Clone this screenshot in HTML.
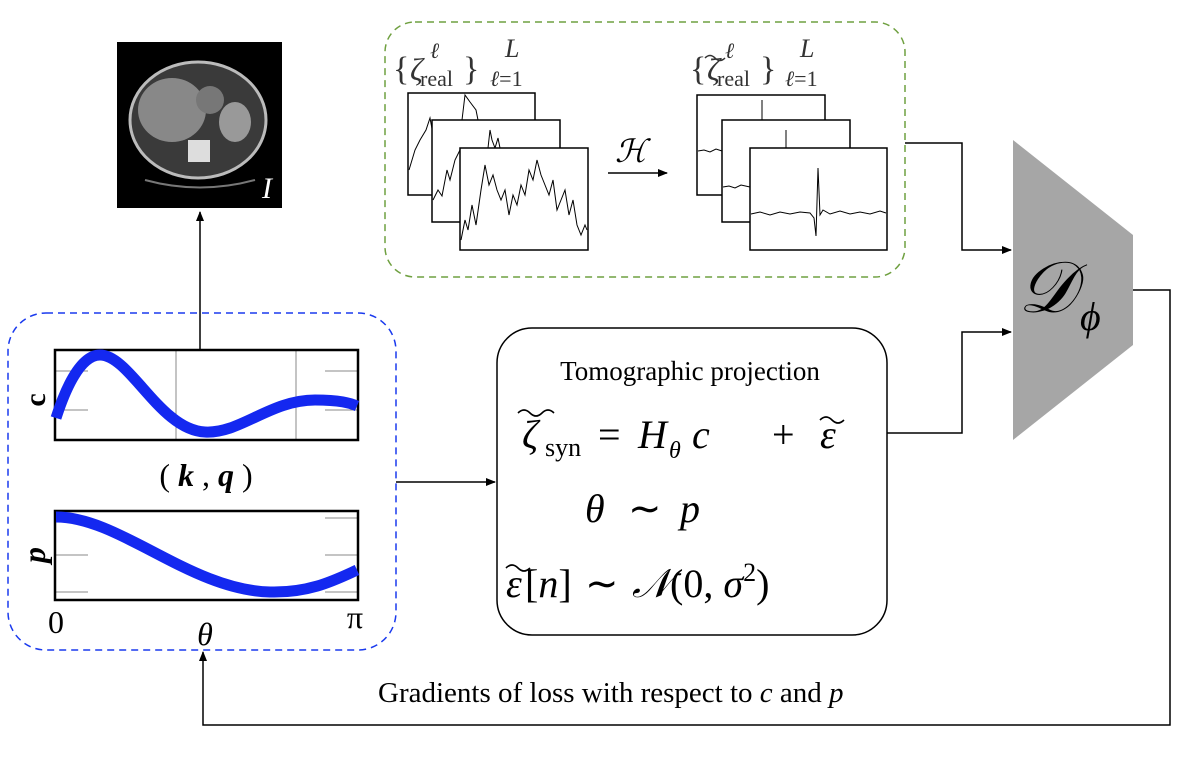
<!DOCTYPE html>
<html><head><style>
body{margin:0;background:#fff}
svg{display:block}
text{font-family:"Liberation Serif",serif}
</style></head><body>
<svg width="1179" height="758" viewBox="0 0 1179 758" xmlns="http://www.w3.org/2000/svg">
<defs>
<marker id="ah" markerWidth="10" markerHeight="8" refX="9" refY="4" orient="auto" markerUnits="userSpaceOnUse">
<path d="M0,0 L10,4 L0,8 z" fill="#000"/></marker>
</defs>
<rect x="117" y="42" width="165" height="166" fill="#000"/>
<ellipse cx="198" cy="120" rx="68" ry="58" fill="#3a3a3a" stroke="#bbb" stroke-width="3"/>
<ellipse cx="172" cy="110" rx="34" ry="32" fill="#888"/>
<ellipse cx="235" cy="122" rx="16" ry="20" fill="#999"/>
<ellipse cx="210" cy="100" rx="14" ry="14" fill="#777"/>
<rect x="188" y="140" width="22" height="22" fill="#ddd"/>
<path d="M145 180 Q200 195 255 180" stroke="#777" stroke-width="2" fill="none"/>
<text x="262" y="198" font-size="30" font-style="italic" fill="#fff">I</text>
<line x1="200" y1="350" x2="200" y2="212" stroke="#000" stroke-width="1.5" marker-end="url(#ah)"/>

<rect x="385" y="22" width="520" height="255" rx="30" fill="none" stroke="#6fa040" stroke-width="1.5" stroke-dasharray="7,5"/>
<g fill="#333">
<text x="393" y="80" font-size="34">{</text>
<text x="410" y="80" font-size="32" font-style="italic">ζ</text>
<text x="430" y="58" font-size="22" font-style="italic">ℓ</text>
<text x="420" y="86" font-size="22">real</text>
<text x="463" y="80" font-size="34">}</text>
<text x="505" y="57" font-size="26" font-style="italic">L</text>
<text x="490" y="86" font-size="22"><tspan font-style="italic">ℓ</tspan>=1</text>

<text x="690" y="80" font-size="34">{</text>
<text x="707" y="80" font-size="32" font-style="italic">ζ</text>
<path d="M705,58 q5,-5 10,0 t10,0" stroke="#333" stroke-width="1.5" fill="none"/>
<text x="725" y="58" font-size="22" font-style="italic">ℓ</text>
<text x="717" y="86" font-size="22">real</text>
<text x="760" y="80" font-size="34">}</text>
<text x="800" y="57" font-size="26" font-style="italic">L</text>
<text x="785" y="86" font-size="22"><tspan font-style="italic">ℓ</tspan>=1</text>
</g>
<g fill="#fff" stroke="#000" stroke-width="1.5">
<rect x="408" y="93" width="127" height="102"/>
<polyline fill="none" stroke-width="1" points="409,170 415,150 420,140 426,130 430,118 436,150 440,130 446,120"/>
<polyline fill="none" stroke-width="1" points="462,120 465,95 470,102 476,110 478,120"/>
<rect x="432" y="120" width="128" height="102"/>
<polyline fill="none" stroke-width="1" points="433,200 438,190 442,196 447,170 450,180 455,160 460,150"/>
<polyline fill="none" stroke-width="1" points="488,148 490,130 492,140 495,148 498,138 500,148"/>
<rect x="460" y="148" width="128" height="102"/>
<polyline fill="none" stroke-width="1" points="461,240 465,220 468,230 472,205 476,225 481,190 485,165 489,185 493,175 497,190 501,200 505,190 509,215 513,195 517,205 521,185 525,195 529,170 533,180 537,160 541,175 545,185 549,195 553,180 557,210 561,200 565,190 569,215 573,200 577,225 581,235 585,225 587,230"/>
<rect x="697" y="95" width="128" height="100"/>
<polyline fill="none" stroke-width="1" points="698,151 704,150 710,152 716,149 722,151"/>
<line x1="762" y1="100" x2="762" y2="120" stroke-width="1"/>
<rect x="722" y="120" width="128" height="102"/>
<polyline fill="none" stroke-width="1" points="723,187 729,186 735,188 741,185 750,187"/>
<line x1="786" y1="130" x2="786" y2="148" stroke-width="1"/>
<rect x="750" y="148" width="137" height="102"/>
<polyline fill="none" stroke-width="1" points="751,214 760,212 770,215 780,212 790,214 800,212 810,213 814,218 816,236 818,168 820,215 823,210 830,214 840,211 850,214 860,212 870,214 880,211 886,213"/>
</g>
<text x="615" y="162" font-size="32" font-style="italic">ℋ</text>
<line x1="608" y1="173" x2="667" y2="173" stroke="#000" stroke-width="1.5" marker-end="url(#ah)"/>

<polyline points="905,143 962,143 962,250 1011,250" fill="none" stroke="#000" stroke-width="1.5" marker-end="url(#ah)"/>
<polyline points="887,433 962,433 962,332 1011,332" fill="none" stroke="#000" stroke-width="1.5" marker-end="url(#ah)"/>
<polygon points="1013,140 1133,235 1133,345 1013,440" fill="#a6a6a6"/>
<text x="1018" y="312" font-size="72" font-style="italic">𝒟</text>
<text x="1080" y="330" font-size="40" font-style="italic">ϕ</text>
<polyline points="1133,290 1170,290 1170,725 203,725 203,652" fill="none" stroke="#000" stroke-width="1.5" marker-end="url(#ah)"/>
<text x="378" y="702" font-size="29">Gradients of loss with respect to <tspan font-style="italic">c</tspan> and <tspan font-style="italic">p</tspan></text>

<rect x="8" y="313" width="388" height="337" rx="38" fill="none" stroke="#1a3aee" stroke-width="1.5" stroke-dasharray="7,5"/>
<line x1="396" y1="482" x2="495" y2="482" stroke="#000" stroke-width="1.5" marker-end="url(#ah)"/>
<g stroke="#888" stroke-width="1">
<line x1="176" y1="351" x2="176" y2="439"/><line x1="296" y1="351" x2="296" y2="439"/>
<line x1="56" y1="371" x2="88" y2="371"/><line x1="56" y1="410" x2="88" y2="410"/>
<line x1="325" y1="371" x2="357" y2="371"/><line x1="325" y1="410" x2="357" y2="410"/>
<line x1="56" y1="555" x2="88" y2="555"/><line x1="56" y1="592" x2="88" y2="592"/>
<line x1="325" y1="518" x2="357" y2="518"/><line x1="325" y1="555" x2="357" y2="555"/><line x1="325" y1="592" x2="357" y2="592"/>
</g>
<rect x="55" y="350" width="303" height="90" fill="none" stroke="#000" stroke-width="2.5"/>
<rect x="55" y="511" width="303" height="89" fill="none" stroke="#000" stroke-width="2.5"/>
<path d="M56,418 C65,390 80,355 100,355 C130,355 160,430 205,432 C240,434 270,400 315,400 C340,400 350,403 357,406" fill="none" stroke="#1428f0" stroke-width="11"/>
<path d="M56,517 C120,517 190,590 270,592 C310,593 335,580 357,570" fill="none" stroke="#1428f0" stroke-width="11"/>
<text x="45" y="400" font-size="30" font-weight="bold" transform="rotate(-90 45 400)" text-anchor="middle">c</text>
<text x="45" y="555" font-size="32" font-style="italic" font-weight="bold" transform="rotate(-90 45 555)" text-anchor="middle">p</text>
<text x="206" y="486" font-size="32" text-anchor="middle">( <tspan font-style="italic" font-weight="bold">k</tspan> , <tspan font-style="italic" font-weight="bold">q</tspan> )</text>
<text x="56" y="633" font-size="32" text-anchor="middle">0</text>
<text x="355" y="628" font-size="32" text-anchor="middle">π</text>
<text x="205" y="645" font-size="32" font-style="italic" text-anchor="middle">θ</text>

<rect x="497" y="328" width="390" height="307" rx="35" fill="#fff" stroke="#000" stroke-width="1.5"/>
<text x="690" y="380" font-size="27" text-anchor="middle">Tomographic projection</text>
<g font-size="40">
<text x="522" y="448" font-style="italic">ζ</text>
<path d="M518,413 q6,-6 12,0 t12,0 t12,0" stroke="#000" stroke-width="1.6" fill="none"/>
<text x="545" y="456" font-size="26">syn</text>
<text x="598" y="448">=</text>
<text x="638" y="448" font-style="italic">H</text>
<text x="669" y="458" font-size="24" font-style="italic">θ</text>
<text x="692" y="448" font-style="italic">c</text>
<text x="772" y="448">+</text>
<text x="820" y="448" font-style="italic">ε</text>
<path d="M820,420 q6,-6 12,0 t12,0" stroke="#000" stroke-width="1.6" fill="none"/>

<text x="585" y="522" font-style="italic">θ</text>
<text x="628" y="522">∼</text>
<text x="680" y="522" font-style="italic">p</text>

<text x="506" y="597" font-style="italic">ε</text>
<path d="M506,568 q6,-6 12,0 t12,0" stroke="#000" stroke-width="1.6" fill="none"/>
<text x="525" y="597">[<tspan font-style="italic">n</tspan>]</text>
<text x="585" y="597">∼</text>
<text x="632" y="597" font-style="italic">𝒩</text>
<text x="670" y="597">(0, <tspan font-style="italic">σ</tspan><tspan font-size="26" dy="-16">2</tspan><tspan dy="16">)</tspan></text>
</g>
</svg>
</body></html>
